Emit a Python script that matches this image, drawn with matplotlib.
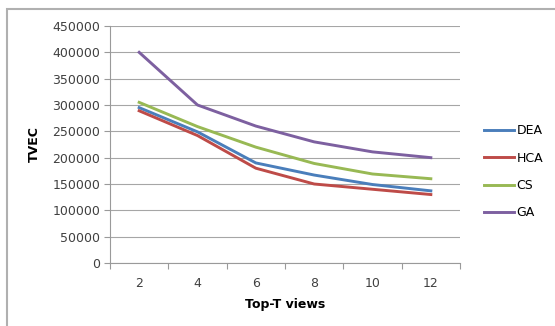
import matplotlib
matplotlib.use("Agg")
import matplotlib.pyplot as plt
from matplotlib.patches import Rectangle
import numpy as np

# data
views = [2, 4, 6, 8, 10, 12]
dea = [295000, 249000, 190000, 167000, 149000, 137000]
hca = [289000, 242000, 180000, 150000, 140000, 130000]
cs = [305000, 259000, 220000, 189000, 169000, 160000]
ga = [400000, 300000, 260000, 230000, 211000, 200000]
yticks = np.arange(0, 450001, 50000)

plt.rcParams['font.family'] = ['DejaVu Sans']

fig = plt.figure(figsize=(5.55, 3.26), dpi=100)
ax = fig.add_axes([110/555, 1 - 263/326, 350/555, 237/326])

# outer chart border (runs off the right and bottom of the picture)
fig.patches.append(Rectangle((7/555, -0.1), 1.2, 1 - 9/326 + 0.1,
                             transform=fig.transFigure, fill=False,
                             edgecolor='#b0b0b0', linewidth=1.5))

ax.plot(views, dea, color='#4a7ebb', lw=2.1, label='DEA')
ax.plot(views, hca, color='#be4b48', lw=2.1, label='HCA')
ax.plot(views, cs, color='#98b954', lw=2.1, label='CS')
ax.plot(views, ga, color='#7d60a0', lw=2.1, label='GA')

ax.set_xlim(1, 13)
ax.set_ylim(0, 450000)
ax.set_yticks(yticks)
ax.set_yticklabels([str(v) for v in yticks])
ax.set_xticks(views)
ax.set_xticklabels([str(v) for v in views])
ax.set_xticks(np.arange(1, 14, 2), minor=True)
ax.tick_params(axis='x', which='major', length=0, pad=10, labelsize=9, colors='#404040')
ax.tick_params(axis='x', which='minor', length=4, width=0.8, color='#9a9a9a')
ax.tick_params(axis='y', length=4, width=0.8, color='#9a9a9a', labelsize=9,
               labelcolor='#404040', pad=3)

ax.grid(axis='y', color='#a6a6a6', lw=0.8)
ax.set_axisbelow(True)
for s in ['top', 'right']:
    ax.spines[s].set_visible(False)
for s in ['left', 'bottom']:
    ax.spines[s].set_color('#9a9a9a')
    ax.spines[s].set_linewidth(0.8)

ax.set_ylabel('TVEC', fontsize=9, fontweight='bold', labelpad=8)
ax.set_xlabel('Top-T views', fontsize=9, fontweight='bold', labelpad=6)

ax.legend(loc='center left', bbox_to_anchor=(1.05, 0.385), frameon=False,
          fontsize=9, handlelength=2.4, handletextpad=0.2, labelspacing=1.15,
          borderpad=0)

fig.savefig('out.png', dpi=100)
